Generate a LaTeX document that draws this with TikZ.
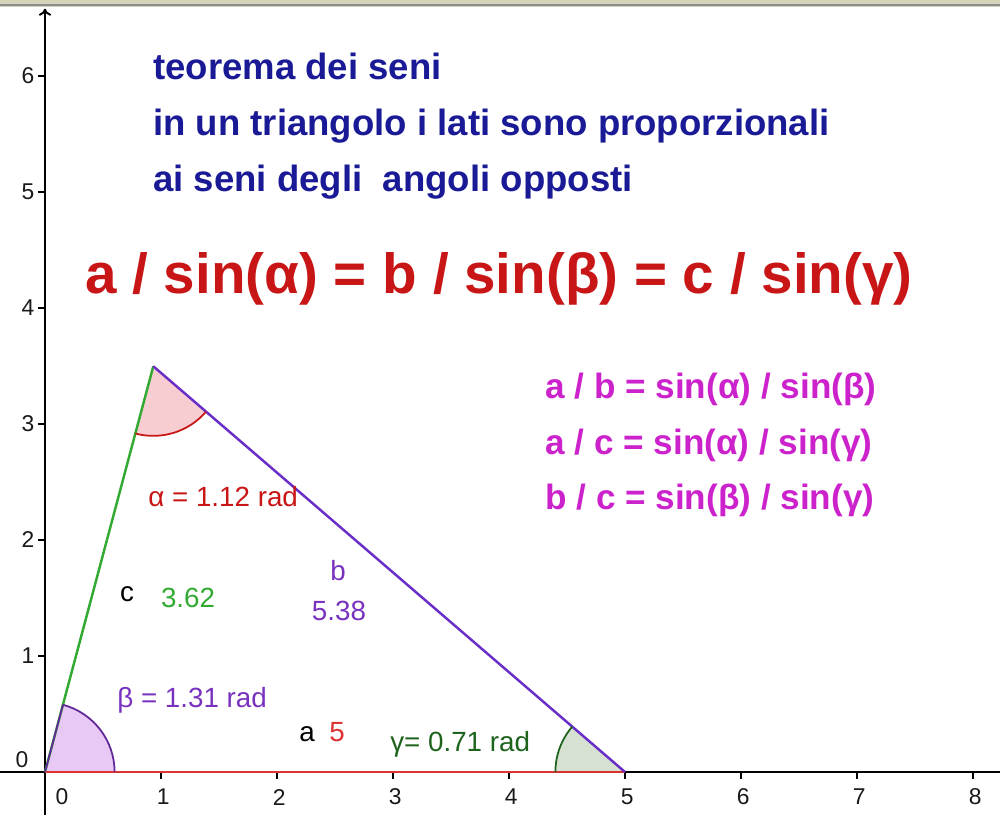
\documentclass[tikz,border=0pt]{standalone}
\usepackage{fontspec}
\setmainfont{Liberation Sans}
\usetikzlibrary{arrows.meta}
\definecolor{titleblue}{RGB}{26,26,150}
\definecolor{formred}{RGB}{200,22,22}
\definecolor{formmag}{RGB}{204,34,204}
\definecolor{sidered}{RGB}{220,50,50}
\definecolor{sidegreen}{RGB}{50,170,50}
\definecolor{sideviolet}{RGB}{105,45,200}
\definecolor{txtviolet}{RGB}{120,50,190}
\definecolor{txtgreen}{RGB}{30,100,30}
\definecolor{alphafill}{RGB}{248,205,210}
\definecolor{betafill}{RGB}{232,200,245}
\definecolor{gammafill}{RGB}{215,225,210}
\definecolor{framecol}{RGB}{215,213,185}
\begin{document}
\begin{tikzpicture}[x=2.32cm,y=2.32cm,
  axisline/.style={line width=1.1pt,black},
  ticklab/.style={font=\fontsize{13}{15}\selectfont,text=black!90,inner sep=0pt},
  titletxt/.style={anchor=base west,inner sep=0pt,text=titleblue,font=\fontsize{20.8}{25}\selectfont\bfseries},
  bigtxt/.style={anchor=base west,inner sep=0pt,text=formred,font=\fontsize{32.2}{38}\selectfont\bfseries},
  magtxt/.style={anchor=base west,inner sep=0pt,text=formmag,font=\fontsize{20}{24}\selectfont\bfseries},
  lbl/.style={inner sep=0pt,font=\fontsize{15.8}{19}\selectfont},
  side/.style={line width=1.4pt}]
\useasboundingbox (-0.3879,-0.3707) rectangle (8.2328,6.6552);
% top frame band
\fill[framecol] (-0.3879,6.595) rectangle (8.2328,6.6552);
\draw[black!45,line width=0.6pt] (-0.3879,6.612) -- (8.2328,6.612);
% vertices
\coordinate (A) at (0,0);
\coordinate (B) at (5,0);
\coordinate (C) at (0.9336,3.4976);
\coordinate (yb) at (0,-0.3707);
\coordinate (yt) at (0,6.58);
\coordinate (xl) at (-0.3879,0);
\coordinate (xr) at (8.2328,0);
% axes
\draw[axisline,-{To[length=4pt,width=7pt]}] (yb) -- (yt);
\draw[axisline] (xl) -- (xr);
\foreach \i in {1,...,8} {
  \draw[line width=0.7pt] (\i,0) -- (\i,-0.06);
  \node[ticklab] (xt\i) at (\i+0.02,-0.216) {\i};
}
\node[ticklab] (xt0) at (0.147,-0.216) {0};
\foreach \j in {1,...,6} {
  \draw[line width=0.7pt] (0,\j) -- (-0.06,\j);
  \node[ticklab] (yt\j) at (-0.147,\j) {\j};
}
\node[ticklab] (yt0) at (-0.198,0.103) {0};
% angle sectors
\fill[betafill] (A) -- (0.6,0) arc[start angle=0,end angle=75.06,radius=0.6] -- cycle;
\fill[alphafill] (C) -- ++(255.06:0.6) arc[start angle=255.06,end angle=319.3,radius=0.6] -- cycle;
\fill[gammafill] (B) -- ++(139.3:0.6) arc[start angle=139.3,end angle=180,radius=0.6] -- cycle;
% sides
\draw[side,sidered] (A) -- (B);
\draw[side,sidegreen] (A) -- (C);
\draw[side,sideviolet] (C) -- (B);
% arcs
\draw[line width=1pt,txtviolet!80!black] (A) -- ++(75.06:0.6);
\draw[line width=1pt,txtviolet!80!black] (0.6,0) arc[start angle=0,end angle=75.06,radius=0.6];
\draw[line width=1pt,formred] (C) ++(255.06:0.6) arc[start angle=255.06,end angle=319.3,radius=0.6];
\draw[line width=1pt,txtgreen] (B) ++(139.3:0.6) arc[start angle=139.3,end angle=180,radius=0.6];
% titles
\node[titletxt] (t1) at (0.931,5.966) {teorema dei seni};
\node[titletxt] (t2) at (0.931,5.483) {in un triangolo i lati sono proporzionali};
\node[titletxt] (t3) at (0.931,5.0) {ai seni degli\ \ angoli opposti};
\node[bigtxt] (f0) at (0.345,4.129) {a / sin(α) = b / sin(β) = c / sin(γ)};
\node[magtxt] (f1) at (4.31,3.224) {a / b = sin(α) / sin(β)};
\node[magtxt] (f2) at (4.31,2.741) {a / c = sin(α) / sin(γ)};
\node[magtxt] (f3) at (4.31,2.259) {b / c = sin(β) / sin(γ)};
% labels
\node[lbl,anchor=base west,text=formred] (la) at (0.888,2.293) {α = 1.12 rad};
\node[lbl,anchor=base,text=black] (lc) at (0.707,1.474) {c};
\node[lbl,anchor=base,text=sidegreen] (lcv) at (1.233,1.414) {3.62};
\node[lbl,anchor=base,text=txtviolet] (lb) at (2.526,1.655) {b};
\node[lbl,anchor=base,text=txtviolet] (lbv) at (2.534,1.302) {5.38};
\node[lbl,anchor=base west,text=txtviolet] (lbeta) at (0.621,0.552) {β = 1.31 rad};
\node[lbl,anchor=base,text=black] (lA) at (2.259,0.259) {a};
\node[lbl,anchor=base,text=sidered] (lAv) at (2.517,0.259) {5};
\node[lbl,anchor=base west,text=txtgreen] (lgam) at (2.974,0.181) {γ= 0.71 rad};
\end{tikzpicture}
\end{document}
